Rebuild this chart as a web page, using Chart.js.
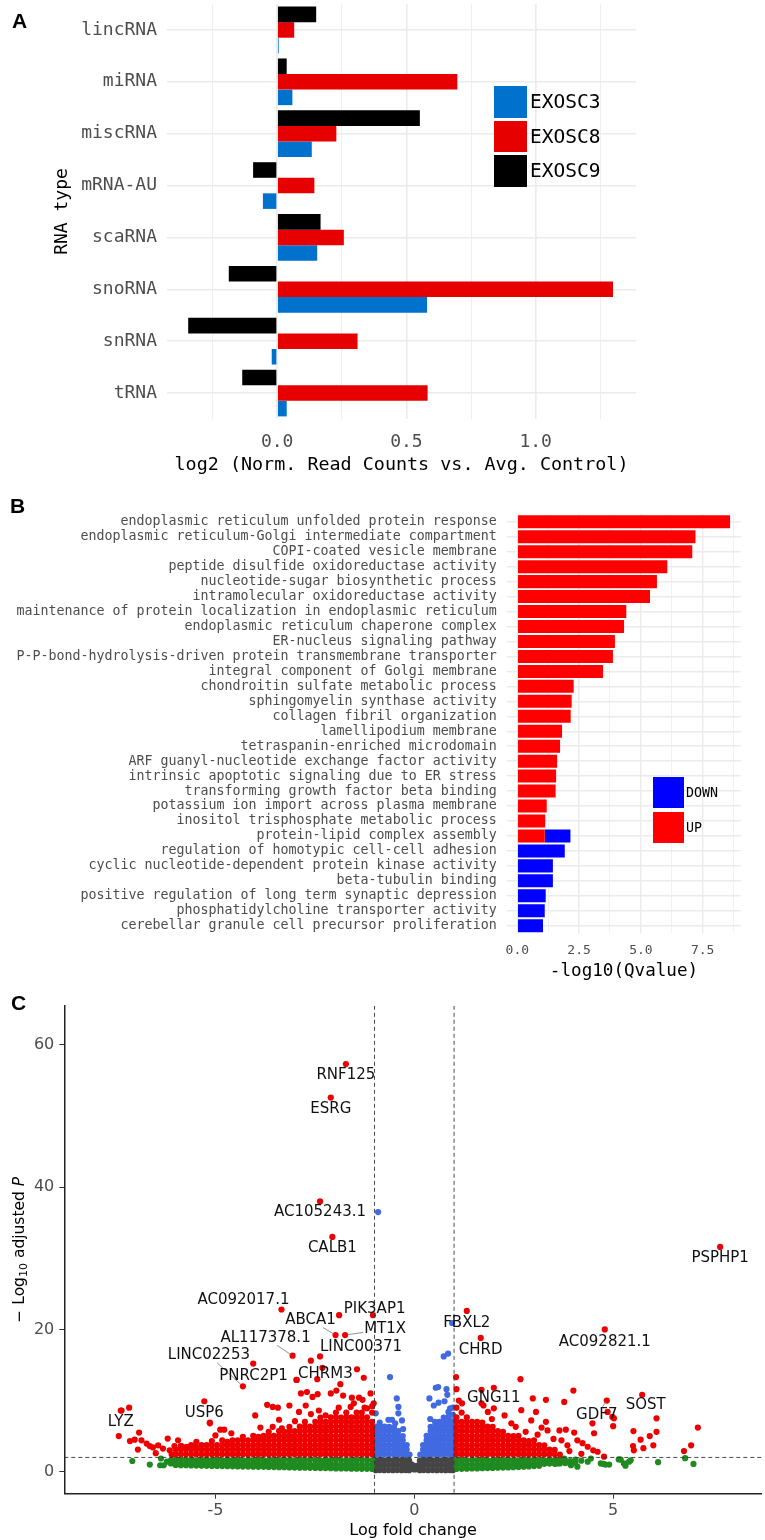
<!DOCTYPE html>
<html>
<head>
<meta charset="utf-8">
<script src="https://cdn.jsdelivr.net/npm/chart.js@4.4.1/dist/chart.umd.min.js"></script>
<style>
  body { margin: 0; background: #fff; }
  #page { position: relative; width: 765px; height: 1540px; overflow: hidden; }
  #page canvas { position: absolute; left: 0; }
  .tag { position: absolute; font: bold 21px "Liberation Sans", Arial, sans-serif; line-height: 1; color: #000; }
  .key { position: absolute; }
  .keytext { position: absolute; display: flex; align-items: center; font-family: "DejaVu Sans Mono", monospace; color: #000; white-space: nowrap; }
</style>
</head>
<body>
<div id="page">
  <canvas id="rnaChart" width="765" height="480" style="top:0;width:765px;height:480px"></canvas>
  <canvas id="goChart" width="765" height="500" style="top:490px;width:765px;height:500px"></canvas>
  <canvas id="volcanoChart" width="765" height="550" style="top:990px;width:765px;height:550px"></canvas>

  <div class="tag" style="left:12px;top:10px">A</div>
  <div class="tag" style="left:10px;top:495px">B</div>
  <div class="tag" style="left:11px;top:992px">C</div>

  <div class="key" style="left:494px;top:86px;width:33px;height:31.5px;background:#0072ce"></div>
  <div class="key" style="left:494px;top:120.5px;width:33px;height:31.5px;background:#e60000"></div>
  <div class="key" style="left:494px;top:155px;width:33px;height:31.5px;background:#000"></div>
  <div class="keytext" style="left:530px;top:86px;height:31.5px;font-size:19.5px">EXOSC3</div>
  <div class="keytext" style="left:530px;top:120.5px;height:31.5px;font-size:19.5px">EXOSC8</div>
  <div class="keytext" style="left:530px;top:155px;height:31.5px;font-size:19.5px">EXOSC9</div>

  <div class="key" style="left:653px;top:777px;width:31px;height:31px;background:#0000ff"></div>
  <div class="key" style="left:653px;top:811.5px;width:31px;height:31px;background:#ff0000"></div>
  <div class="keytext" style="left:686px;top:777px;height:31px;font-size:13.3px">DOWN</div>
  <div class="keytext" style="left:686px;top:811.5px;height:31px;font-size:13.3px">UP</div>
</div>

<script>
// ---------- panel A: RNA type changes ----------
const rnaTypes = ['lincRNA', 'miRNA', 'miscRNA', 'mRNA-AU', 'scaRNA', 'snoRNA', 'snRNA', 'tRNA'];
const exosc3 = [0.006, 0.059, 0.134, -0.055, 0.155, 0.580, -0.021, 0.037];
const exosc8 = [0.066, 0.697, 0.229, 0.144, 0.258, 1.299, 0.311, 0.582];
const exosc9 = [0.151, 0.037, 0.552, -0.093, 0.168, -0.187, -0.344, -0.135];

// ---------- panel B: GO terms ----------
const goTerms = [
  'endoplasmic reticulum unfolded protein response',
  'endoplasmic reticulum-Golgi intermediate compartment',
  'COPI-coated vesicle membrane',
  'peptide disulfide oxidoreductase activity',
  'nucleotide-sugar biosynthetic process',
  'intramolecular oxidoreductase activity',
  'maintenance of protein localization in endoplasmic reticulum',
  'endoplasmic reticulum chaperone complex',
  'ER-nucleus signaling pathway',
  'P-P-bond-hydrolysis-driven protein transmembrane transporter',
  'integral component of Golgi membrane',
  'chondroitin sulfate metabolic process',
  'sphingomyelin synthase activity',
  'collagen fibril organization',
  'lamellipodium membrane',
  'tetraspanin-enriched microdomain',
  'ARF guanyl-nucleotide exchange factor activity',
  'intrinsic apoptotic signaling due to ER stress',
  'transforming growth factor beta binding',
  'potassium ion import across plasma membrane',
  'inositol trisphosphate metabolic process',
  'protein-lipid complex assembly',
  'regulation of homotypic cell-cell adhesion',
  'cyclic nucleotide-dependent protein kinase activity',
  'beta-tubulin binding',
  'positive regulation of long term synaptic depression',
  'phosphatidylcholine transporter activity',
  'cerebellar granule cell precursor proliferation'
];
const qUp = [8.61, 7.21, 7.08, 6.07, 5.65, 5.37, 4.41, 4.32, 3.95, 3.87, 3.47, 2.28, 2.20, 2.16,
  1.81, 1.73, 1.61, 1.57, 1.55, 1.19, 1.13, 1.11, null, null, null, null, null, null];
const qDown = [null, null, null, null, null, null, null, null, null, null, null, null, null, null,
  null, null, null, null, null, null, null, 1.04, 1.92, 1.44, 1.44, 1.15, 1.11, 1.04];

// ---------- panel C: volcano ----------
// each entry: [log fold change, -log10 adj P, (more -log10 adj P read at the same fold change)]
const bothLeft = [
  [-7.43, 5.0], [-7.36, 8.6], [-7.17, 9.0], [-6.92, 5.5], [-7.15, 4.3], [-7.03, 4.5], [-6.95, 3.1],
  [-6.86, 4.4], [-6.73, 3.95], [-6.65, 3.6], [-6.57, 3.4], [-6.5, 2.6], [-6.44, 3.7], [-6.32, 3.25],
  [-6.2, 4.65], [-6.15, 3.0], [-6.1, 2.4], [-6.03, 3.6], [-5.94, 4.4], [-5.86, 3.6], [-5.73, 3.5],
  [-5.52, 3.5], [-5.48, 4.2],
  [-6.0, 2.45, 3.1], [-5.87, 2.45, 3.1, 3.6], [-5.74, 2.45, 3.1], [-5.61, 2.45, 3.1, 3.75],
  [-5.48, 2.45, 3.1, 3.5], [-5.35, 2.45, 3.1, 3.75], [-5.22, 2.45, 3.1, 3.75],
  [-5.09, 2.45, 3.1, 3.75, 4.3], [-4.96, 2.45, 3.1, 3.75], [-4.83, 2.45, 3.1, 3.75, 4.4],
  [-4.70, 2.45, 3.1, 3.75, 4.2], [-4.57, 2.45, 3.1, 3.75, 4.4], [-4.44, 2.45, 3.1, 3.75, 4.4],
  [-4.31, 2.45, 3.1, 3.75, 4.4, 4.9], [-4.18, 2.45, 3.1, 3.75, 4.4], [-4.05, 2.45, 3.1, 3.75, 4.4, 5.05],
  [-3.92, 2.45, 3.1, 3.75, 4.4, 4.9], [-3.79, 2.45, 3.1, 3.75, 4.4, 5.05],
  [-3.66, 2.45, 3.1, 3.75, 4.4, 5.05, 5.6], [-3.53, 2.45, 3.1, 3.75, 4.4, 5.05],
  [-3.40, 2.45, 3.1, 3.75, 4.4, 5.05, 5.7], [-3.27, 2.45, 3.1, 3.75, 4.4, 5.05, 5.6],
  [-3.14, 2.45, 3.1, 3.75, 4.4, 5.05, 5.7, 6.3], [-3.01, 2.45, 3.1, 3.75, 4.4, 5.05, 5.7],
  [-2.88, 2.45, 3.1, 3.75, 4.4, 5.05, 5.7, 6.35], [-2.75, 2.45, 3.1, 3.75, 4.4, 5.05, 5.7, 6.35, 7.0],
  [-2.62, 2.45, 3.1, 3.75, 4.4, 5.05, 5.7, 6.35], [-2.49, 2.45, 3.1, 3.75, 4.4, 5.05, 5.7, 6.35, 7.0],
  [-2.36, 2.45, 3.1, 3.75, 4.4, 5.05, 5.7, 6.35, 7.0, 7.6],
  [-2.23, 2.45, 3.1, 3.75, 4.4, 5.05, 5.7, 6.35, 7.0],
  [-2.10, 2.45, 3.1, 3.75, 4.4, 5.05, 5.7, 6.35, 7.0, 7.65],
  [-1.97, 2.45, 3.1, 3.75, 4.4, 5.05, 5.7, 6.35, 7.0, 7.65, 8.3],
  [-1.84, 2.45, 3.1, 3.75, 4.4, 5.05, 5.7, 6.35, 7.0, 7.6],
  [-1.71, 2.45, 3.1, 3.75, 4.4, 5.05, 5.7, 6.35, 7.0, 7.65, 8.3],
  [-1.58, 2.45, 3.1, 3.75, 4.4, 5.05, 5.7, 6.35, 7.0, 7.65],
  [-1.45, 2.45, 3.1, 3.75, 4.4, 5.05, 5.7, 6.35, 7.0, 7.65, 8.3],
  [-1.32, 2.45, 3.1, 3.75, 4.4, 5.05, 5.7, 6.35, 7.0, 7.65, 8.3],
  [-1.19, 2.45, 3.1, 3.75, 4.4, 5.05, 5.7, 6.35, 7.0, 7.65, 8.9],
  [-1.06, 2.45, 3.1, 3.75, 4.4, 5.05, 5.7, 6.35, 7.0, 8.3, 9.2],
  [-5.14, 6.9], [-4.88, 5.9], [-4.78, 5.9], [-4.6, 5.4], [-5.0, 5.1], [-4.0, 7.9], [-3.70, 9.4],
  [-3.56, 9.1], [-3.43, 9.0], [-3.14, 9.3], [-3.56, 6.3], [-3.33, 6.1], [-3.87, 6.2], [-3.4, 7.3],
  [-3.0, 7.1], [-2.96, 12.9], [-2.85, 11.0], [-2.70, 11.2], [-2.9, 8.4], [-2.73, 9.3], [-2.56, 10.5],
  [-2.43, 10.9], [-2.60, 15.6], [-2.44, 13.0], [-2.40, 8.6], [-2.6, 8.1], [-2.23, 7.9], [-2.10, 11.0],
  [-1.96, 11.4], [-1.86, 12.3], [-1.79, 10.7], [-1.57, 10.4], [-1.39, 10.4], [-1.52, 9.6],
  [-1.44, 14.4], [-1.27, 13.2], [-1.25, 9.0], [-1.02, 9.6], [-1.9, 9.0], [-1.6, 9.1], [-1.04, 22.0],
  [-5.14, 6.8], [-4.05, 15.2], [-1.1, 11.0], [-1.3, 10.1]
];
const bothRight = [
  [1.06, 2.45, 3.1, 3.75, 4.4, 5.05, 5.7, 6.35, 7.0, 7.65, 9.0],
  [1.19, 2.45, 3.1, 3.75, 4.4, 5.05, 5.7, 6.35, 7.0, 8.3],
  [1.32, 2.45, 3.1, 3.75, 4.4, 5.05, 5.7, 6.35, 7.0, 7.65],
  [1.45, 2.45, 3.1, 3.75, 4.4, 5.05, 5.7, 6.35, 7.0],
  [1.58, 2.45, 3.1, 3.75, 4.4, 5.05, 5.7, 6.35, 7.0],
  [1.71, 2.45, 3.1, 3.75, 4.4, 5.05, 5.7, 6.35, 6.9],
  [1.84, 2.45, 3.1, 3.75, 4.4, 5.05, 5.7, 6.35],
  [1.97, 2.45, 3.1, 3.75, 4.4, 5.05, 5.7, 6.3],
  [2.10, 2.45, 3.1, 3.75, 4.4, 5.05, 5.7],
  [2.23, 2.45, 3.1, 3.75, 4.4, 5.05, 5.6],
  [2.36, 2.45, 3.1, 3.75, 4.4, 5.05],
  [2.49, 2.45, 3.1, 3.75, 4.4, 5.0],
  [2.62, 2.45, 3.1, 3.75, 4.4, 5.05],
  [2.75, 2.45, 3.1, 3.75, 4.4], [2.88, 2.45, 3.1, 3.75, 4.3], [3.01, 2.45, 3.1, 3.75, 4.4],
  [3.14, 2.45, 3.1, 3.75], [3.27, 2.45, 3.1, 3.7], [3.40, 2.45, 3.1], [3.53, 2.45, 3.05], [3.66, 2.4],
  [1.05, 13.3], [1.06, 11.6], [1.12, 10.0], [1.2, 9.6], [1.69, 11.5], [1.69, 9.6], [1.74, 9.3],
  [1.85, 8.4], [2.0, 8.9], [2.27, 7.9], [2.44, 6.8], [2.67, 13.0], [2.69, 8.65], [2.98, 10.3],
  [3.06, 8.4], [2.94, 7.2], [3.31, 10.1], [3.31, 7.0], [3.35, 5.8], [3.77, 9.8], [4.0, 11.4],
  [3.65, 5.8], [3.81, 5.9], [4.02, 5.5], [3.70, 4.4], [3.85, 3.7], [4.1, 4.4], [4.23, 4.0],
  [4.36, 3.5], [4.48, 6.8], [4.61, 2.8], [4.77, 2.1], [4.86, 8.4], [5.0, 6.4], [4.98, 7.7],
  [5.51, 5.7], [5.69, 4.5], [5.92, 5.0], [5.76, 3.3], [6.09, 7.5], [6.09, 5.6], [6.01, 3.7],
  [5.52, 3.0], [6.78, 2.9], [6.96, 3.7], [7.13, 6.2], [2.8, 5.6], [3.1, 5.2], [3.5, 4.6], [3.9, 2.9],
  [4.2, 2.5], [4.5, 3.0], [3.2, 6.2], [2.55, 6.3], [1.95, 7.4], [4.52, 5.4], [5.02, 7.5], [5.5, 3.6]
];
const pOnly = [
  [-0.97, 2.45, 3.1, 3.75, 4.4, 5.05, 5.7, 6.35, 8.2],
  [-0.87, 2.45, 3.1, 3.75, 4.4, 5.05, 5.7, 6.3],
  [-0.75, 2.45, 3.1, 3.75, 4.4, 5.05, 5.7, 6.35],
  [-0.63, 2.45, 3.1, 3.75, 4.4, 5.05, 5.7, 6.3],
  [-0.51, 2.45, 3.1, 3.75, 4.4, 5.05, 5.7, 6.2],
  [-0.40, 2.45, 3.1, 3.75, 4.4, 5.05, 5.7],
  [-0.29, 2.45, 3.1, 3.75, 4.4, 5.0],
  [-0.19, 2.45, 3.1, 3.75],
  [-0.12, 2.4],
  [0.15, 2.4],
  [0.22, 2.45, 3.1, 3.75],
  [0.31, 2.45, 3.1, 3.75, 4.4, 5.05],
  [0.41, 2.45, 3.1, 3.75, 4.4, 5.05, 5.7, 6.3],
  [0.52, 2.45, 3.1, 3.75, 4.4, 5.05, 5.7, 6.35, 7.0],
  [0.63, 2.45, 3.1, 3.75, 4.4, 5.05, 5.7, 6.35, 7.0],
  [0.74, 2.45, 3.1, 3.75, 4.4, 5.05, 5.7, 6.35, 7.0, 7.6],
  [0.86, 2.45, 3.1, 3.75, 4.4, 5.05, 5.7, 6.35, 7.0, 7.7, 8.4],
  [0.97, 2.45, 3.1, 3.75, 4.4, 5.05, 5.7, 6.35, 7.1, 8.0, 9.0],
  [-0.91, 36.5], [-0.61, 13.3], [-0.44, 10.3], [-0.40, 9.1], [-0.40, 8.2], [-0.65, 7.3], [-0.56, 7.3],
  [-0.31, 7.2], [-0.87, 6.9], [-0.28, 6.0], [-0.48, 6.8],
  [0.74, 16.2], [0.85, 16.6], [0.95, 20.9], [0.54, 11.8], [0.81, 11.6], [0.83, 10.8], [0.76, 9.9],
  [0.61, 9.7], [0.49, 9.3], [0.40, 7.4], [0.9, 8.9], [0.60, 11.9], [0.38, 10.3]
];
const notSig = [
  [-0.97, 1.6, 0.9, 0.2], [-0.87, 1.66, 0.95, 0.22], [-0.76, 1.6, 0.9, 0.2],
  [-0.65, 1.66, 0.95, 0.22], [-0.54, 1.6, 0.9, 0.2], [-0.43, 1.66, 0.95, 0.22],
  [-0.32, 1.6, 0.9, 0.2], [-0.22, 1.62, 0.92, 0.22], [-0.13, 1.55, 0.9, 0.2], [-0.06, 1.0, 0.4],
  [0.0, 0.3], [0.06, 0.8, 0.35], [0.14, 1.55, 0.9, 0.2], [0.24, 1.62, 0.95, 0.22],
  [0.35, 1.66, 0.95, 0.2], [0.46, 1.6, 0.9, 0.22], [0.57, 1.66, 0.95, 0.2], [0.68, 1.6, 0.9, 0.22],
  [0.79, 1.66, 0.95, 0.2], [0.89, 1.6, 0.9, 0.22], [0.97, 1.62, 0.92, 0.2]
];
const fcOnly = [
  [-7.09, 1.5], [-6.65, 1.0], [-6.39, 0.9], [-6.30, 0.9], [-6.37, 1.85], [-6.22, 1.4],
  [-6.12, 1.6, 1.15], [-6.0, 1.65, 1.1, 0.95], [-5.87, 1.7, 1.1, 0.9], [-5.74, 1.62, 1.05, 0.9],
  [-5.61, 1.68, 1.1, 0.88], [-5.48, 1.6, 1.05, 0.85], [-5.35, 1.66, 1.08, 0.84], [-5.22, 1.7, 1.1, 0.82],
  [-5.09, 1.62, 1.04, 0.8], [-4.96, 1.66, 1.08, 0.8], [-4.83, 1.6, 1.02, 0.78], [-4.70, 1.68, 1.1, 0.76],
  [-4.57, 1.64, 1.05, 0.75], [-4.44, 1.7, 1.08, 0.74], [-4.31, 1.6, 1.02, 0.72], [-4.18, 1.66, 1.06, 0.72],
  [-4.05, 1.62, 1.1, 0.7], [-3.92, 1.7, 1.04, 0.68], [-3.79, 1.64, 1.08, 0.68], [-3.66, 1.6, 1.02, 0.66],
  [-3.53, 1.68, 1.06, 0.64], [-3.40, 1.62, 1.1, 0.62], [-3.27, 1.7, 1.04, 0.62], [-3.14, 1.64, 1.0, 0.6],
  [-3.01, 1.6, 1.06, 0.58], [-2.88, 1.68, 1.02, 0.56], [-2.75, 1.62, 1.08, 0.55], [-2.62, 1.7, 1.0, 0.54],
  [-2.49, 1.64, 1.04, 0.52], [-2.36, 1.6, 1.0, 0.5], [-2.23, 1.68, 1.06, 0.5], [-2.10, 1.62, 1.0, 0.48],
  [-1.97, 1.7, 1.04, 0.46], [-1.84, 1.64, 1.0, 0.45], [-1.71, 1.6, 1.02, 0.44], [-1.58, 1.68, 0.98, 0.42],
  [-1.45, 1.62, 1.04, 0.42], [-1.32, 1.7, 1.0, 0.4], [-1.19, 1.64, 0.98, 0.4], [-1.06, 1.6, 1.0, 0.38],
  [1.06, 1.62, 1.0, 0.38], [1.19, 1.68, 1.04, 0.4], [1.32, 1.6, 0.98, 0.42], [1.45, 1.66, 1.04, 0.44],
  [1.58, 1.62, 1.0, 0.46], [1.71, 1.7, 1.06, 0.48], [1.84, 1.64, 1.0, 0.5], [1.97, 1.6, 1.04, 0.52],
  [2.10, 1.68, 1.06, 0.55], [2.23, 1.62, 1.02, 0.58], [2.36, 1.7, 1.08, 0.6], [2.49, 1.64, 1.04, 0.62],
  [2.62, 1.6, 1.1, 0.66], [2.75, 1.68, 1.06, 0.7], [2.88, 1.62, 1.1, 0.74], [3.01, 1.7, 1.08, 0.78],
  [3.14, 1.64, 1.12, 0.82], [3.27, 1.6, 1.1], [3.40, 1.68, 1.14], [3.53, 1.64, 1.1], [3.66, 1.7, 1.16],
  [3.79, 1.62, 1.2], [3.92, 1.5, 1.1], [4.05, 1.7, 1.3], [4.2, 1.55],
  [3.6, 1.15], [3.77, 1.85], [3.94, 0.9], [4.1, 0.7], [4.36, 1.4], [4.44, 1.85], [4.69, 1.15],
  [4.76, 1.08], [4.81, 1.0], [4.90, 1.0], [5.14, 1.72], [5.19, 1.7], [5.27, 1.15], [5.31, 0.84],
  [5.40, 1.4], [5.44, 1.6], [6.13, 1.33], [6.81, 1.9], [7.02, 1.08]
];
const fcCutoffs = [-1, 1];
const pCutoff = 2;

// labelled genes (points drawn with the red series)
const geneNames = ['RNF125', 'ESRG', 'AC105243.1', 'CALB1', 'PSPHP1', 'AC092017.1', 'PIK3AP1', 'ABCA1',
  'MT1X', 'LINC00371', 'AL117378.1', 'LINC02253', 'CHRM3', 'PNRC2P1', 'USP6', 'LYZ', 'FBXL2', 'CHRD',
  'AC092821.1', 'GNG11', 'GDF7', 'SOST'];
const geneFC = [-1.72, -2.10, -2.37, -2.06, 7.69, -3.34, -1.89, -1.98, -1.74, -2.37, -3.06, -4.31, -2.31,
  -2.96, -5.28, -7.38, 1.32, 1.67, 4.79, 2.0, 4.84, 5.73];
const geneP = [57.3, 52.6, 38.0, 33.0, 31.6, 22.8, 22.0, 19.2, 19.2, 16.2, 16.3, 12.0, 14.6, 12.9, 9.9,
  8.6, 22.6, 18.8, 20.0, 11.8, 10.0, 10.8];
// label placement: pixel offset of the text centre from its point, and whether a leader line is drawn
const labelNudge = [[0, 11], [0, 11.5], [0, 11], [0, 11], [0, 11], [-38, -9.5], [35.5, -6.5], [-25, -15, 1],
  [40, -6, 1], [41, -9], [-27, -18, 1], [-34, -31, 1], [3, 6], [-43, -3.5], [0, 12], [0, 12], [0, 12],
  [0, 12], [0, 12.5], [0, 10.5], [-10, 15, 1], [3.5, 10.5]];

Chart.defaults.animation = false;
Chart.defaults.font.family = '"DejaVu Sans Mono", monospace';

const mono = '"DejaVu Sans Mono", monospace';
const sans = '"DejaVu Sans", sans-serif';
const gridGrey = '#ebebeb';

function toPoints(cols) {
  const pts = [];
  cols.forEach(([fc, ...ps]) => ps.forEach(p => pts.push({ x: fc, y: p })));
  return pts;
}

// fixed axis boxes so the plot areas land where the figure has them
function fixBox(size) {
  return s => {
    if (s.isHorizontal()) s.height = size; else s.width = size;
    s.paddingTop = 0; s.paddingBottom = 0; s.paddingLeft = 0; s.paddingRight = 0;
  };
}

// ---------- chart A ----------
new Chart(document.getElementById('rnaChart'), {
  type: 'bar',
  data: {
    labels: rnaTypes,
    datasets: [
      { label: 'EXOSC9', data: exosc9, backgroundColor: '#000000' },
      { label: 'EXOSC8', data: exosc8, backgroundColor: '#e60000' },
      { label: 'EXOSC3', data: exosc3, backgroundColor: '#0072ce' }
    ]
  },
  options: {
    indexAxis: 'y',
    responsive: false,
    layout: { padding: { top: 4, right: 129, left: 0, bottom: 0 } },
    datasets: { bar: { categoryPercentage: 0.9, barPercentage: 1.0 } },
    plugins: { legend: { display: false }, tooltip: { enabled: false } },
    scales: {
      x: {
        min: -0.426, max: 1.388,
        grid: {
          color: gridGrey, drawTicks: false,
          lineWidth: c => (Math.abs(c.tick.value * 2 - Math.round(c.tick.value * 2)) < 1e-6 ? 1.6 : 0.8)
        },
        border: { display: false },
        ticks: {
          stepSize: 0.25, includeBounds: false, autoSkip: false, maxRotation: 0, padding: 13,
          color: '#4d4d4d', font: { family: mono, size: 18 },
          callback: v => (Math.abs(v * 2 - Math.round(v * 2)) < 1e-6 ? v.toFixed(1) : '')
        },
        title: {
          display: true, text: 'log2 (Norm. Read Counts vs. Avg. Control)', color: '#000',
          font: { family: mono, size: 18.4 }, padding: { top: 0, bottom: 4 }
        },
        afterFit: fixBox(61)
      },
      y: {
        grid: { color: gridGrey, lineWidth: 1.6, offset: false, drawTicks: false },
        border: { display: false },
        ticks: { autoSkip: false, padding: 10, color: '#4d4d4d', font: { family: mono, size: 18 } },
        title: {
          display: true, text: 'RNA type', color: '#000',
          font: { family: mono, size: 18 }, padding: { top: 52, bottom: 0 }
        },
        afterFit: fixBox(167)
      }
    }
  }
});

// ---------- chart B ----------
new Chart(document.getElementById('goChart'), {
  type: 'bar',
  data: {
    labels: goTerms,
    datasets: [
      { label: 'UP', data: qUp, backgroundColor: '#ff0000' },
      { label: 'DOWN', data: qDown, backgroundColor: '#0000ff' }
    ]
  },
  options: {
    indexAxis: 'y',
    responsive: false,
    layout: { padding: { top: 24.3, right: 24.3, left: 0, bottom: 0 } },
    datasets: { bar: { categoryPercentage: 0.87, barPercentage: 1.0 } },
    plugins: { legend: { display: false }, tooltip: { enabled: false } },
    scales: {
      x: {
        stacked: true, min: -0.405, max: 9.04,
        grid: {
          color: gridGrey, drawTicks: false,
          lineWidth: c => (Math.abs(c.tick.value / 2.5 - Math.round(c.tick.value / 2.5)) < 1e-6 ? 1.4 : 0.7)
        },
        border: { display: false },
        ticks: {
          stepSize: 1.25, includeBounds: false, autoSkip: false, maxRotation: 0, padding: 10,
          color: '#4d4d4d', font: { family: mono, size: 13 },
          callback: v => (Math.abs(v / 2.5 - Math.round(v / 2.5)) < 1e-6 ? v.toFixed(1) : '')
        },
        title: {
          display: true, text: '-log10(Qvalue)', color: '#000',
          font: { family: mono, size: 17.6 }, padding: { top: 0, bottom: 7.7 }
        },
        afterFit: fixBox(56.8)
      },
      y: {
        stacked: true,
        grid: { color: gridGrey, lineWidth: 1.4, offset: false, drawTicks: false },
        border: { display: false },
        ticks: { autoSkip: false, padding: 10.6, color: '#4d4d4d', font: { family: mono, size: 13.3 } },
        afterFit: fixBox(507.3)
      }
    }
  }
});

// ---------- chart C ----------
const volcanoExtras = {
  id: 'volcanoExtras',
  afterDatasetsDraw(chart) {
    const { ctx, chartArea: a, scales: { x, y } } = chart;
    ctx.save();
    ctx.beginPath();
    ctx.rect(a.left, a.top, a.right - a.left, a.bottom - a.top);
    ctx.clip();
    ctx.strokeStyle = '#333';
    ctx.lineWidth = 0.9;
    ctx.setLineDash([4, 3]);
    fcCutoffs.forEach(v => {
      const px = x.getPixelForValue(v);
      ctx.beginPath(); ctx.moveTo(px, a.top); ctx.lineTo(px, a.bottom); ctx.stroke();
    });
    const py = y.getPixelForValue(pCutoff);
    ctx.beginPath(); ctx.moveTo(a.left, py); ctx.lineTo(a.right, py); ctx.stroke();
    ctx.setLineDash([]);

    ctx.font = '15px ' + sans;
    ctx.textAlign = 'center';
    ctx.textBaseline = 'middle';
    geneNames.forEach((g, i) => {
      const px = x.getPixelForValue(geneFC[i]);
      const ppy = y.getPixelForValue(geneP[i]);
      const [dx, dy, link] = labelNudge[i];
      const tx = px + dx, ty = ppy + dy;
      if (link) {
        const w = ctx.measureText(g).width / 2 + 1, h = 7.5;
        const vx = px - tx, vy = ppy - ty;
        const t = Math.min(vx ? w / Math.abs(vx) : 1e9, vy ? h / Math.abs(vy) : 1e9);
        ctx.strokeStyle = '#777';
        ctx.lineWidth = 0.8;
        ctx.beginPath();
        ctx.moveTo(tx + vx * t, ty + vy * t);
        ctx.lineTo(px - vx * 0.06, ppy - vy * 0.06);
        ctx.stroke();
      }
      ctx.fillStyle = '#111';
      ctx.fillText(g, tx, ty);
    });
    ctx.restore();
  },
  afterDraw(chart) {
    const { ctx, chartArea: a } = chart;
    const big = '15.5px ' + sans, small = '11px ' + sans, ital = 'italic 15.5px ' + sans;
    const parts = [['\u2212 Log', big, 0], ['10', small, 3.5], [' adjusted ', big, 0], ['P', ital, 0]];
    ctx.save();
    let total = 0;
    parts.forEach(p => { ctx.font = p[1]; p.push(ctx.measureText(p[0]).width); total += p[3]; });
    ctx.translate(18.3, (a.top + a.bottom) / 2);
    ctx.rotate(-Math.PI / 2);
    ctx.fillStyle = '#000';
    ctx.textAlign = 'left';
    ctx.textBaseline = 'alphabetic';
    let cx = -total / 2;
    parts.forEach(p => { ctx.font = p[1]; ctx.fillText(p[0], cx, 5.6 + p[2]); cx += p[3]; });
    ctx.restore();
  }
};

const genePoints = geneFC.map((fc, i) => ({ x: fc, y: geneP[i] }));
const tickAxis = { display: true, drawOnChartArea: false, drawTicks: true, tickLength: 5, color: '#333', lineWidth: 1 };

new Chart(document.getElementById('volcanoChart'), {
  type: 'scatter',
  data: {
    datasets: [
      { label: 'p-value and log2 FC', data: toPoints(bothLeft).concat(toPoints(bothRight), genePoints), backgroundColor: '#ee0000' },
      { label: 'p-value', data: toPoints(pOnly), backgroundColor: '#4169e1' },
      { label: 'Log2 FC', data: toPoints(fcOnly), backgroundColor: '#1f8a1f' },
      { label: 'NS', data: toPoints(notSig), backgroundColor: '#454545' }
    ]
  },
  options: {
    responsive: false,
    layout: { padding: { top: 15.8, right: 0, left: 0, bottom: 0 } },
    elements: { point: { radius: 3.1, borderWidth: 0, hoverRadius: 3.1 } },
    plugins: { legend: { display: false }, tooltip: { enabled: false } },
    scales: {
      x: {
        type: 'linear', min: -8.8, max: 8.74,
        grid: tickAxis,
        border: { display: true, color: '#222', width: 1.5 },
        ticks: { stepSize: 5, includeBounds: false, padding: 3, color: '#4d4d4d', font: { family: sans, size: 16 } },
        title: { display: true, text: 'Log fold change', color: '#000', font: { family: sans, size: 16 }, padding: { top: 0, bottom: 0 } },
        afterFit: fixBox(46.3)
      },
      y: {
        type: 'linear', min: -3.1, max: 65.5,
        grid: tickAxis,
        border: { display: true, color: '#222', width: 1.5 },
        ticks: { stepSize: 20, includeBounds: false, padding: 5, color: '#4d4d4d', font: { family: sans, size: 16 } },
        afterFit: fixBox(64.3)
      }
    }
  },
  plugins: [volcanoExtras]
});
</script>
</body>
</html>
